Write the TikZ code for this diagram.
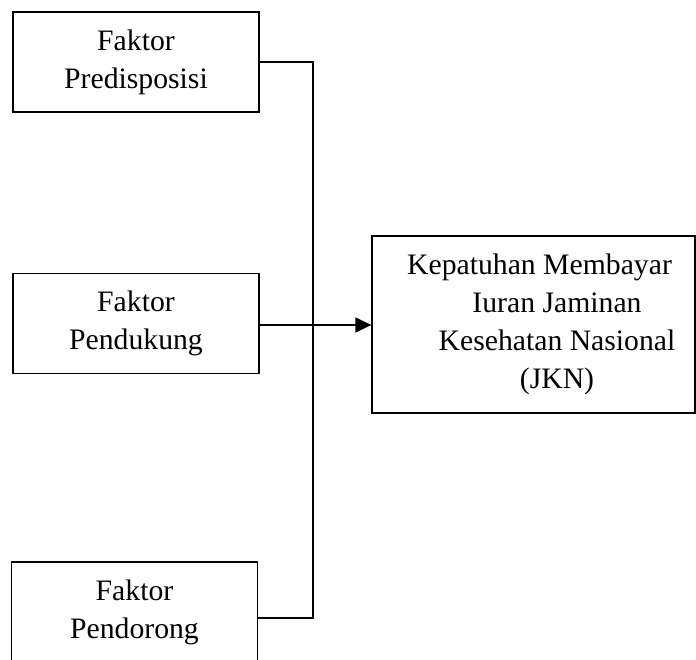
\documentclass[tikz,border=0pt]{standalone}
\usepackage{fontspec}
\setmainfont{Liberation Serif}
\usetikzlibrary{arrows.meta}
\begin{document}
\begin{tikzpicture}[x=1pt,y=-1pt,
  line width=1.2pt,
  every node/.style={font=\fontsize{29.7pt}{38pt}\selectfont, align=center, inner sep=0pt},
  factorbox/.style={draw, minimum width=246pt, minimum height=100pt},
  bigbox/.style={draw, minimum width=323pt, minimum height=177pt}]
\clip (0,0) rectangle (696,660);
\useasboundingbox (0,0) rectangle (696,660);
\node[factorbox] (b1) at (136,62) {Faktor\\Predisposisi};
\node[factorbox] (b2) at (136,323.5) {Faktor\\Pendukung};
\node[factorbox] (b3) at (134.5,612) {Faktor\\Pendorong};
\node[bigbox] (big) at (533.5,324.5) {\hspace*{12pt}Kepatuhan Membayar\\\hspace*{47pt}Iuran Jaminan\\\hspace*{47pt}Kesehatan Nasional\\\hspace*{47pt}(JKN)};
\coordinate (top) at (313,62);
\coordinate (bot) at (313,618);
\coordinate (b3out) at (258,618);
\draw (b1.east) -- (top) -- (bot) -- (b3out);
\draw[-{Triangle[length=16pt,width=15pt]}] (b2.east |- 0,325) -- (big.west |- 0,325);
\end{tikzpicture}
\end{document}
